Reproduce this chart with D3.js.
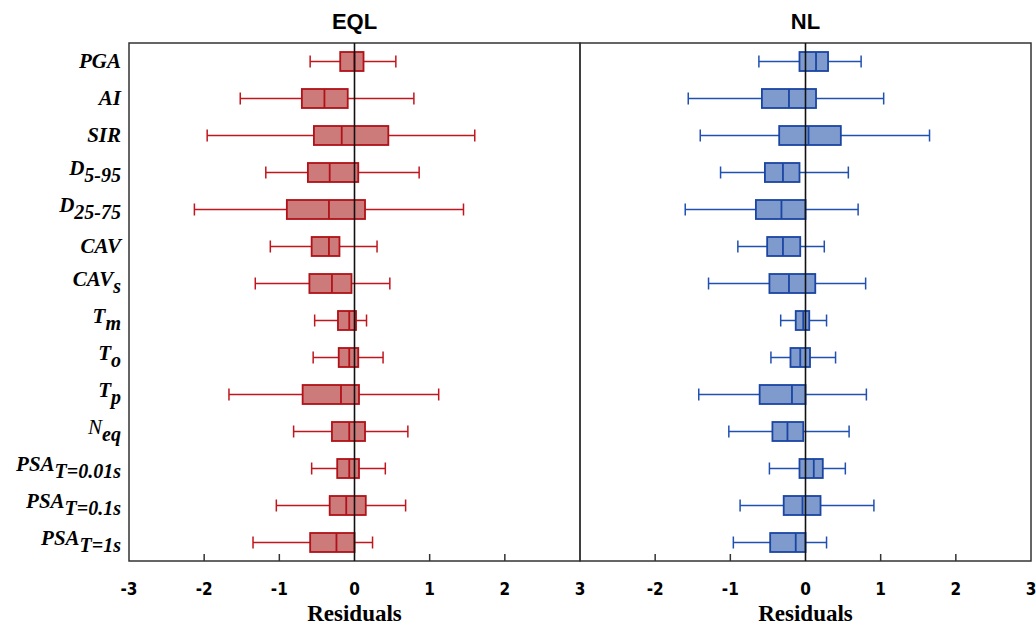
<!DOCTYPE html>
<html>
<head>
<meta charset="utf-8">
<script src="https://cdn.jsdelivr.net/npm/d3@7"></script>
<style>
  body { margin: 0; background: #fff; }
</style>
</head>
<body>
<svg id="chart" width="1036" height="628"></svg>
<script>

// rows, top to bottom: [main text, subscript]
const categories = [
    ["PGA", ""], ["AI", ""], ["SIR", ""], ["D", "5-95"], ["D", "25-75"],
    ["CAV", ""], ["CAV", "s"], ["T", "m"], ["T", "o"], ["T", "p"],
    ["N", "eq"], ["PSA", "T=0.01s"], ["PSA", "T=0.1s"], ["PSA", "T=1s"]
];

// [whisker low, q1, median, q3, whisker high]
const eqlStats = [
    [-0.59, -0.19, 0.00, 0.12, 0.55],
    [-1.52, -0.70, -0.40, -0.09, 0.79],
    [-1.96, -0.54, -0.17, 0.45, 1.60],
    [-1.18, -0.62, -0.33, 0.05, 0.86],
    [-2.13, -0.90, -0.34, 0.14, 1.45],
    [-1.12, -0.57, -0.34, -0.20, 0.30],
    [-1.32, -0.60, -0.30, -0.04, 0.47],
    [-0.53, -0.22, -0.07, 0.02, 0.16],
    [-0.55, -0.21, -0.07, 0.05, 0.38],
    [-1.67, -0.69, -0.18, 0.06, 1.12],
    [-0.81, -0.30, -0.07, 0.14, 0.71],
    [-0.57, -0.23, -0.07, 0.06, 0.41],
    [-1.04, -0.33, -0.11, 0.15, 0.68],
    [-1.35, -0.59, -0.24, 0.00, 0.24]
];

const nlStats = [
    [-0.62, -0.08, 0.14, 0.30, 0.74],
    [-1.56, -0.58, -0.22, 0.14, 1.04],
    [-1.40, -0.35, 0.04, 0.47, 1.65],
    [-1.13, -0.54, -0.30, -0.08, 0.57],
    [-1.60, -0.66, -0.32, 0.00, 0.70],
    [-0.90, -0.51, -0.30, -0.07, 0.25],
    [-1.29, -0.48, -0.22, 0.13, 0.80],
    [-0.33, -0.13, -0.03, 0.05, 0.28],
    [-0.46, -0.20, -0.07, 0.06, 0.40],
    [-1.42, -0.61, -0.18, 0.00, 0.81],
    [-1.02, -0.44, -0.24, -0.03, 0.58],
    [-0.48, -0.08, 0.11, 0.23, 0.53],
    [-0.87, -0.29, -0.04, 0.20, 0.91],
    [-0.96, -0.47, -0.13, 0.00, 0.28]
];

const eqlTickLabels = [-3, -2, -1, 0, 1, 2, 3];
const nlTickLabels = [-2, -1, 0, 1, 2, 3];
const innerTicks = [-2, -1, 1, 2];

const panels = [
    { title: "EQL", stats: eqlStats, ticks: eqlTickLabels, x0: 129, x1: 580, fill: "#cd7a7a", stroke: "#b01218", whisk: "#c0161c" },
    { title: "NL",  stats: nlStats,  ticks: nlTickLabels,  x0: 580, x1: 1031, fill: "#7f9bcd", stroke: "#1a45a3", whisk: "#2050b0" }
];

const svg = d3.select("#chart");
const plotTop = 43, plotBottom = 561;

const y = d3.scaleBand()
    .domain(d3.range(categories.length))
    .range([plotTop, plotBottom]);
const boxH = 19, capH = 12;

panels.forEach(function(p){
    const x = d3.scaleLinear().domain([-3, 3]).range([p.x0, p.x1]);
    const g = svg.append("g");

    // frame
    g.append("rect")
        .attr("x", p.x0).attr("y", plotTop)
        .attr("width", p.x1 - p.x0).attr("height", plotBottom - plotTop)
        .attr("fill", "none").attr("stroke", "#333").attr("stroke-width", 1.5);

    // inner ticks on bottom axis
    g.selectAll(".tk")
        .data(innerTicks)
        .enter().append("line")
        .attr("x1", function(d){ return x(d); }).attr("x2", function(d){ return x(d); })
        .attr("y1", plotBottom).attr("y2", plotBottom - 7)
        .attr("stroke", "#333").attr("stroke-width", 1.5);

    // tick labels
    g.selectAll(".tl")
        .data(p.ticks)
        .enter().append("text")
        .attr("x", function(d){ return x(d); })
        .attr("y", 595)
        .attr("text-anchor", "middle")
        .attr("font-family", "'DejaVu Sans Condensed', 'Liberation Sans Narrow', sans-serif")
        .attr("font-stretch", "condensed")
        .attr("font-weight", "bold")
        .attr("font-size", 17)
        .text(function(d){ return d; });

    // axis title
    g.append("text")
        .attr("x", x(0)).attr("y", 621)
        .attr("text-anchor", "middle")
        .attr("font-family", "'Liberation Serif', serif")
        .attr("font-weight", "bold")
        .attr("font-size", 23)
        .text("Residuals");

    // panel title
    g.append("text")
        .attr("x", x(0)).attr("y", 29)
        .attr("text-anchor", "middle")
        .attr("font-family", "'Liberation Sans', sans-serif")
        .attr("font-weight", "bold")
        .attr("font-size", 22)
        .text(p.title);

    const rows = g.selectAll(".row")
        .data(p.stats)
        .enter().append("g")
        .attr("transform", function(d, i){ return "translate(0," + (y(i) + y.bandwidth() / 2) + ")"; });

    // whisker lines
    rows.append("line")
        .attr("x1", function(d){ return x(d[0]); })
        .attr("x2", function(d){ return x(d[4]); })
        .attr("stroke", p.whisk).attr("stroke-width", 1.5);
    // caps
    [0, 4].forEach(function(k){
        rows.append("line")
            .attr("x1", function(d){ return x(d[k]); })
            .attr("x2", function(d){ return x(d[k]); })
            .attr("y1", -capH / 2).attr("y2", capH / 2)
            .attr("stroke", p.whisk).attr("stroke-width", 1.5);
    });
    // box
    rows.append("rect")
        .attr("x", function(d){ return x(d[1]); })
        .attr("width", function(d){ return x(d[3]) - x(d[1]); })
        .attr("y", -boxH / 2).attr("height", boxH)
        .attr("fill", p.fill).attr("stroke", p.stroke).attr("stroke-width", 1.8);
    // median
    rows.append("line")
        .attr("x1", function(d){ return x(d[2]); })
        .attr("x2", function(d){ return x(d[2]); })
        .attr("y1", -boxH / 2).attr("y2", boxH / 2)
        .attr("stroke", p.stroke).attr("stroke-width", 1.8);

    // zero line
    g.append("line")
        .attr("x1", x(0)).attr("x2", x(0))
        .attr("y1", plotTop).attr("y2", plotBottom)
        .attr("stroke", "#111").attr("stroke-width", 1.6);
});

// row labels
const labels = svg.selectAll(".lab")
    .data(categories)
    .enter().append("text")
    .attr("x", 121)
    .attr("y", function(d, i){ return y(i) + y.bandwidth() / 2 + (d[1] ? 2 : 6); })
    .attr("text-anchor", "end")
    .attr("font-family", "'Liberation Serif', serif")
    .attr("font-weight", "bold")
    .attr("font-style", "italic")
    .attr("font-size", 21);

labels.append("tspan")
    .attr("font-weight", function(d){ return d[1] === "eq" ? "normal" : "bold"; })
    .text(function(d){ return d[0]; });
labels.append("tspan")
    .attr("dy", function(d){ return d[1] ? 7 : 0; })
    .attr("font-size", 20)
    .text(function(d){ return d[1]; });

</script>
</body>
</html>
